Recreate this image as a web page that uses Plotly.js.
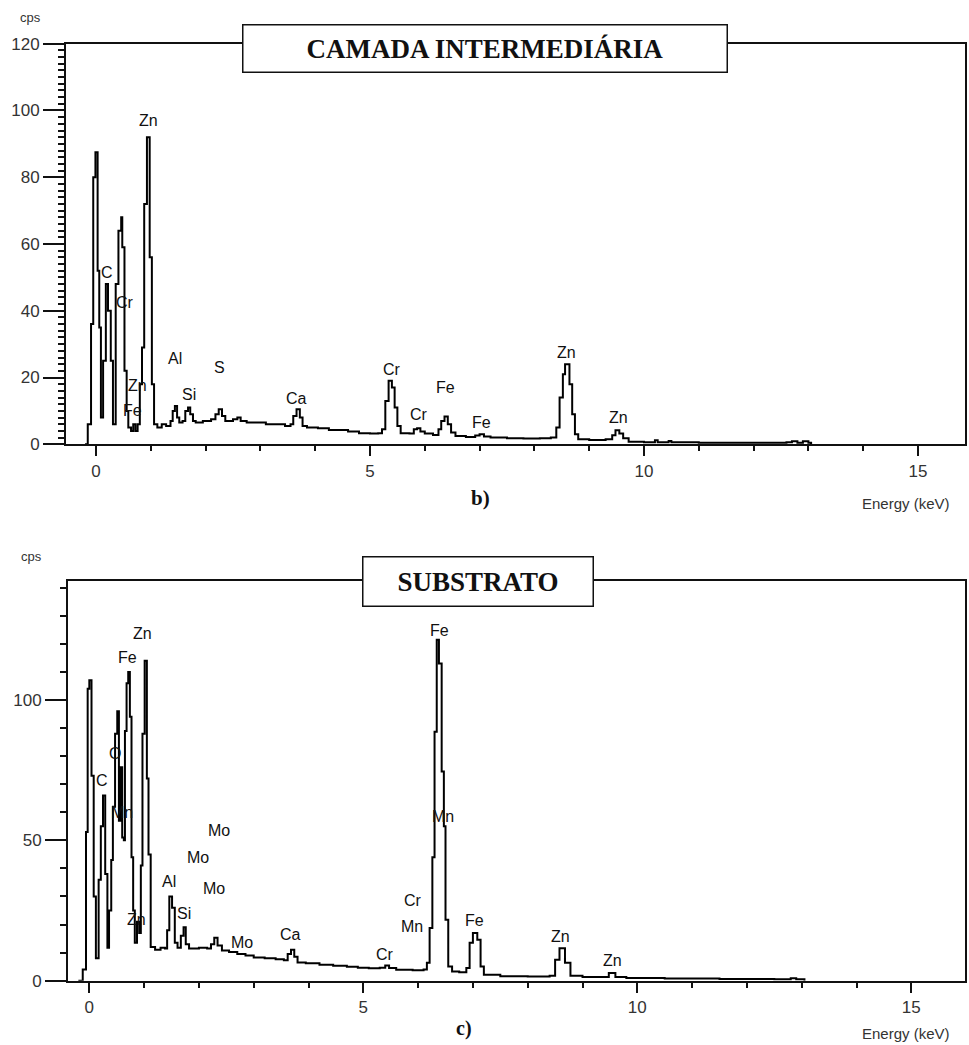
<!DOCTYPE html>
<html><head><meta charset="utf-8">
<script src="https://cdn.plot.ly/plotly-3.0.1.min.js"></script>
<style>html,body{margin:0;padding:0;background:#fff}#chart{width:969px;height:1045px}</style>
</head><body><div id="chart"></div>
<script>
// ---- Panel b) CAMADA INTERMEDIÁRIA : spectrum (energy keV, counts per second) ----
const topE = [-0.20,-0.15,-0.09,-0.05,-0.01,0.03,0.06,0.09,0.13,0.18,0.22,0.27,0.31,0.36,0.41,0.46,0.48,0.52,0.56,0.59,0.64,0.68,0.72,0.76,0.80,0.84,0.88,0.93,0.98,1.02,1.06,1.12,1.20,1.28,1.36,1.40,1.44,1.48,1.52,1.58,1.63,1.68,1.72,1.77,1.82,1.95,2.10,2.18,2.24,2.30,2.36,2.50,2.58,2.64,2.75,2.95,3.10,3.30,3.45,3.55,3.60,3.66,3.72,3.77,3.85,4.05,4.25,4.45,4.60,4.80,5.00,5.15,5.22,5.28,5.34,5.40,5.45,5.50,5.56,5.72,5.80,5.86,5.92,6.00,6.15,6.25,6.30,6.36,6.42,6.48,6.56,6.75,6.92,7.00,7.08,7.20,7.50,7.80,8.10,8.30,8.40,8.46,8.52,8.56,8.64,8.69,8.74,8.80,9.00,9.30,9.42,9.48,9.55,9.62,9.72,10.00,10.20,10.25,10.45,10.50,11.00,11.50,12.00,12.60,12.70,12.80,12.90,13.00,13.05];
const topCps = [0,6,36,80,87.5,52,35,8,25,48,40,25,6,48,64,68,59,22,10,5,4,6,4,6,18,29,72,92,56,18,6,5,6,5.5,7,10,11.5,8,6.5,7,10,11,9,7,6.5,7,7.5,9,10.5,8.5,7,7.5,8,7,6.5,6.5,6,6,5.5,6,8.5,10.5,8,5.5,5,4.8,4.3,4.3,3.8,3.3,3.2,3.3,4.5,13,19,17,11,5.5,3.3,3.2,4.5,4.8,3.8,3.2,2.8,4.5,7,8.3,6,3.5,2.5,2.2,2.6,3.0,2.3,2.0,1.8,1.7,1.8,2.0,5,14,21,24,18,9,3,1.5,1.3,1.5,2.7,4.2,3.2,1.8,0.8,0.6,1.2,0.6,1.0,0.6,0.5,0.5,0.5,0.6,0.9,0.5,0.9,0.5,0];
const topLabelText = ["Zn","C","Cr","Al","S","Si","Zn","Fe","Ca","Cr","Cr","Fe","Fe","Zn","Zn"];
const topLabelE    = [0.95,0.20,0.53,1.44,2.26,1.70,0.75,0.66,3.65,5.40,5.89,6.37,7.03,8.58,9.53];
const topLabelCps  = [97,51.6,42.6,25.8,23,15,17.7,10,13.8,22.5,9,17,6.6,27.6,8.1];

// ---- Panel c) SUBSTRATO ----
const botE = [-0.20,-0.12,-0.06,-0.03,0.00,0.04,0.08,0.12,0.17,0.21,0.25,0.29,0.33,0.36,0.40,0.43,0.47,0.51,0.54,0.57,0.60,0.63,0.65,0.68,0.71,0.74,0.77,0.80,0.83,0.87,0.91,0.94,0.97,1.01,1.05,1.08,1.12,1.20,1.30,1.38,1.42,1.46,1.51,1.56,1.61,1.67,1.72,1.76,1.82,2.00,2.15,2.22,2.28,2.34,2.42,2.55,2.70,2.85,3.00,3.20,3.40,3.55,3.62,3.68,3.74,3.80,3.95,4.20,4.45,4.70,4.90,5.10,5.30,5.40,5.47,5.60,5.90,6.10,6.16,6.21,6.26,6.30,6.34,6.38,6.43,6.47,6.50,6.55,6.62,6.75,6.88,6.94,7.00,7.08,7.14,7.20,7.50,8.00,8.40,8.50,8.58,8.68,8.78,9.00,9.40,9.48,9.60,9.80,10.50,11.50,12.50,12.80,12.90,13.00,13.05];
const botCps = [0,4,53,104,107,73,30,8,36,55,66,38,11.7,25,43,62,88,96,57,76,51,50,89,106,110,94,44,25,13.5,21,17,41,88,114,72,45,12,11,11.7,11.5,18,30,26,13.5,11.7,16,19,13,11.5,11.7,11.5,13,15.3,12.5,10.8,10.2,9.5,9,8.3,8,7.6,7.3,9.5,11,8.5,6.5,6.2,5.7,5.3,5.0,4.6,4.4,4.6,5.4,4.5,3.9,3.7,4.0,6.4,18.8,44,88.7,121.5,113,74.5,55,21.7,5.1,3.3,3.0,4.5,13.5,17,14.6,5.1,2.1,1.6,1.5,1.8,7.5,11.6,6.4,1.8,1.3,1.3,2.7,1.3,1.0,0.8,0.6,0.5,0.9,0.5,0.5,0];
const botLabelText = ["Zn","Fe","C","O","Mn","Mo","Mo","Mo","Al","Si","Zn","Mo","Ca","Cr","Mn","Cr","Mn","Fe","Fe","Zn","Zn"];
const botLabelE    = [0.97,0.69,0.24,0.47,0.60,2.36,1.98,2.27,1.45,1.72,0.86,2.79,3.67,5.40,5.89,5.91,6.46,6.39,7.03,8.59,9.54];
const botLabelCps  = [123.8,115,71.5,80.8,59.8,53.4,44,33,35.2,23.8,21.7,13.5,16.4,9.3,19.2,28.5,58.4,124.6,21.5,15.7,7.1];

const titleTop = "CAMADA INTERMEDIÁRIA";
const titleBot = "SUBSTRATO";

const W = 969, H = 1045;
const px = v => v / W;
const py = v => 1 - v / H;
const ink = "#111111";
const sans = "Liberation Sans, Arial, sans-serif";
const serif = "Liberation Serif, Times New Roman, serif";

function spectrum(x, y, xa, ya) {
  return {x: x, y: y, xaxis: xa, yaxis: ya, type: "scatter", mode: "lines",
          line: {shape: "hv", color: "#000", width: 2}, hoverinfo: "skip", showlegend: false};
}
function emptyTrace(xa, ya) {
  return {x: [], y: [], xaxis: xa, yaxis: ya, type: "scatter", mode: "lines", showlegend: false, hoverinfo: "skip"};
}

function axisX(domain, range, anchor) {
  return {domain: domain, range: range, anchor: anchor, showline: true, linecolor: ink, linewidth: 2,
          mirror: true, ticks: "outside", ticklen: 10, tickwidth: 2, tickcolor: ink,
          tick0: 0, dtick: 5, showgrid: false, zeroline: false,
          minor: {ticks: "outside", tick0: 0, dtick: 1, ticklen: 5, tickwidth: 2, tickcolor: ink, showgrid: false},
          tickfont: {family: sans, size: 17, color: "#333"}, fixedrange: true};
}
function axisY(domain, range, anchor, dtick) {
  return {domain: domain, range: range, anchor: anchor, showline: true, linecolor: ink, linewidth: 2,
          mirror: true, ticks: "outside", ticklen: 21, tickwidth: 2, tickcolor: ink,
          tick0: 0, dtick: dtick, showgrid: false, zeroline: false,
          tickfont: {family: sans, size: 17, color: "#333"}, fixedrange: true};
}
// secondary tick-only axis for the fine ticks on the cps axis
function axisYMinor(domain, range, anchor, over, dtick) {
  return {domain: domain, range: range, anchor: anchor, overlaying: over, side: "left",
          showline: false, ticks: "outside", ticklen: 7, tickwidth: 2, tickcolor: ink,
          tick0: 0, dtick: dtick, showticklabels: false, showgrid: false, zeroline: false, fixedrange: true};
}

const annotations = [];
function addLabels(texts, es, cs, xr, yr) {
  texts.forEach((t, i) => annotations.push({x: es[i], y: cs[i], xref: xr, yref: yr, text: t,
    showarrow: false, font: {family: sans, size: 16, color: "#111"}}));
}
addLabels(topLabelText, topLabelE, topLabelCps, "x", "y");
addLabels(botLabelText, botLabelE, botLabelCps, "x2", "y2");

function paperText(text, x, y, font) {
  annotations.push({x: px(x), y: py(y), xref: "paper", yref: "paper", text: text, showarrow: false,
                    xanchor: "center", yanchor: "middle", font: font});
}
annotations.push({x: px(484.5), y: py(48.5), xref: "paper", yref: "paper", text: "<b>" + titleTop + "</b>", showarrow: false,
  xanchor: "center", yanchor: "middle", width: 483, height: 46, borderpad: 0, bgcolor: "#fff",
  bordercolor: ink, borderwidth: 1.5, font: {family: serif, size: 27, color: "#111"}});
annotations.push({x: px(477.5), y: py(581.5), xref: "paper", yref: "paper", text: "<b>" + titleBot + "</b>", showarrow: false,
  xanchor: "center", yanchor: "middle", width: 229, height: 48, borderpad: 0, bgcolor: "#fff",
  bordercolor: ink, borderwidth: 1.5, font: {family: serif, size: 27, color: "#111"}});

paperText("cps", 31, 17, {family: sans, size: 13, color: "#333"});
paperText("cps", 32, 556, {family: sans, size: 13, color: "#333"});
paperText("Energy (keV)", 906, 503, {family: sans, size: 15, color: "#333"});
paperText("Energy (keV)", 906, 1033, {family: sans, size: 15, color: "#333"});
paperText("<b>b)</b>", 480, 498, {family: serif, size: 21, color: "#111"});
paperText("<b>c)</b>", 464, 1028, {family: serif, size: 20, color: "#111"});

const topYDom = [py(444.3), py(43.7)], botYDom = [py(980.7), py(580.7)];
const layout = {
  width: W, height: H, margin: {l: 0, r: 0, t: 0, b: 0}, paper_bgcolor: "#fff", plot_bgcolor: "#fff",
  showlegend: false,
  xaxis: axisX([px(66), px(965)], [-0.547, 15.858], "y"),
  yaxis: axisY(topYDom, [0, 120], "x", 20),
  xaxis2: axisX([px(68), px(965)], [-0.389, 15.98], "y2"),
  yaxis2: axisY(botYDom, [0, 142.5], "x2", 50),
  yaxis3: axisYMinor(topYDom, [0, 120], "x", "y", 2),
  yaxis4: axisYMinor(botYDom, [0, 142.5], "x2", "y2", 10),
  annotations: annotations
};

Plotly.newPlot("chart", [emptyTrace("x", "y3"), emptyTrace("x2", "y4"),
  spectrum(topE, topCps, "x", "y"), spectrum(botE, botCps, "x2", "y2")], layout,
  {staticPlot: true, displayModeBar: false});
</script></body></html>
